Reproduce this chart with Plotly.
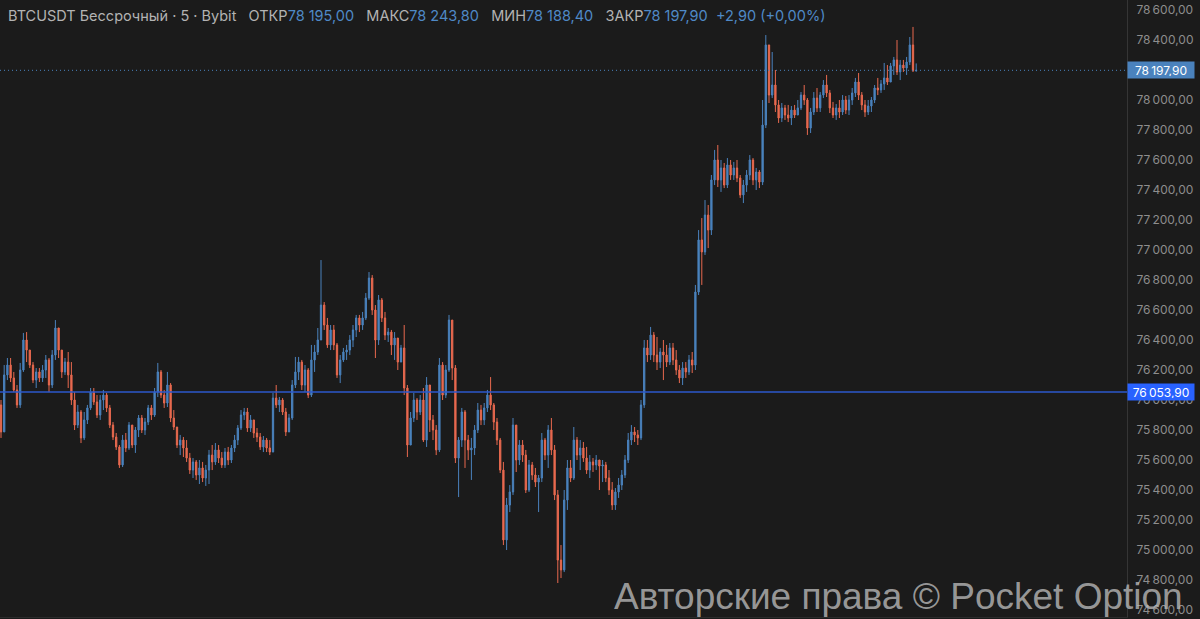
import plotly.graph_objects as go

# ---------------- data ----------------
first_open = 75967

closes = [
    75787, 76167, 76233, 76147, 76067, 75967, 76200, 76400, 76333, 76233,
    76133, 76187, 76147, 76200, 76267, 76100, 76300, 76480, 76333, 76187,
    76253, 76167, 76000, 75833, 75920, 75747, 75867, 75947, 76053, 75987,
    75900, 76000, 76033, 75947, 75833, 75753, 75687, 75567, 75733, 75680,
    75833, 75700, 75800, 75880, 75800, 75853, 75947, 75900, 76053, 76187,
    76033, 75980, 76100, 75880, 75820, 75700, 75733, 75680, 75613, 75533,
    75587, 75500, 75547, 75480, 75533, 75633, 75587, 75667, 75613, 75567,
    75653, 75600, 75680, 75733, 75813, 75900, 75920, 75813, 75867, 75780,
    75753, 75687, 75733, 75680, 75653, 76013, 75967, 76000, 75920, 75787,
    75880, 76100, 76187, 76253, 76100, 76200, 76033, 76267, 76320, 76400,
    76633, 76500, 76367, 76467, 76367, 76167, 76267, 76320, 76333, 76400,
    76467, 76547, 76500, 76547, 76680, 76813, 76600, 76400, 76667, 76547,
    76433, 76453, 76367, 76413, 76253, 76347, 76080, 75700, 75880, 76000,
    75920, 76000, 75733, 76100, 75867, 75800, 75667, 76233, 76033, 76200,
    76533, 76213, 75613, 75733, 75920, 75733, 75667, 75680, 75800, 75933,
    75867, 75947, 76033, 75967, 75853, 75733, 75533, 75067, 75300, 75387,
    75833, 75600, 75700, 75633, 75400, 75567, 75500, 75453, 75480, 75733,
    75633, 75800, 75667, 75367, 74933, 74867, 75333, 75547, 75480, 75733,
    75633, 75680, 75613, 75533, 75587, 75567, 75600, 75560, 75567, 75480,
    75400, 75300, 75387, 75433, 75500, 75600, 75733, 75787, 75767, 75747,
    75967, 76347, 76300, 76433, 76300, 76253, 76320, 76300, 76253, 76347,
    76267, 76200, 76147, 76213, 76187, 76267, 76233, 76720, 77067, 76987,
    77233, 77133, 77467, 77600, 77467, 77547, 77433, 77567, 77500, 77547,
    77480, 77367, 77433, 77500, 77600, 77467, 77520, 77453, 77833, 78367,
    78033, 78100, 77967, 77880, 77947, 77900, 77880, 77933, 77900, 77947,
    78033, 78000, 77813, 77920, 78013, 77947, 78033, 78100, 78047, 77947,
    77900, 77947, 77920, 78000, 77933, 78000, 78047, 78120, 78033, 77967,
    77920, 77960, 78000, 78080, 78067, 78107, 78147, 78120, 78227, 78267,
    78187, 78233, 78213, 78253, 78367, 78195, 78197.9,
]

highs = [
    76000, 76233, 76280, 76280, 76187, 76100, 76247, 76447, 76453, 76333,
    76253, 76213, 76213, 76233, 76300, 76280, 76333, 76533, 76453, 76333,
    76280, 76320, 76253, 76053, 75967, 75933, 75920, 75967, 76080, 76080,
    76033, 76033, 76067, 76047, 75967, 75853, 75780, 75700, 75767, 75780,
    75853, 75833, 75820, 75900, 75900, 75880, 75967, 75967, 76080, 76247,
    76200, 76067, 76187, 76113, 75933, 75813, 75767, 75753, 75733, 75647,
    75613, 75600, 75600, 75587, 75567, 75667, 75700, 75713, 75700, 75653,
    75680, 75687, 75700, 75767, 75833, 75933, 75947, 75947, 75900, 75867,
    75813, 75780, 75760, 75747, 75733, 76047, 76100, 76020, 76013, 75947,
    75907, 76133, 76287, 76287, 76267, 76233, 76213, 76367, 76367, 76480,
    76933, 76653, 76547, 76500, 76500, 76380, 76300, 76347, 76367, 76433,
    76500, 76567, 76567, 76587, 76713, 76853, 76833, 76633, 76700, 76680,
    76587, 76480, 76467, 76453, 76413, 76367, 76500, 76100, 75920, 76047,
    76013, 76033, 76080, 76153, 76100, 75900, 75833, 76280, 76253, 76233,
    76567, 76533, 76233, 75753, 75947, 75933, 75767, 75747, 75833, 75980,
    75967, 75980, 76067, 76153, 75980, 75880, 75747, 75587, 75347, 75433,
    75880, 75833, 75733, 75733, 75667, 75600, 75587, 75547, 75500, 75780,
    75747, 75833, 75880, 75700, 75400, 75033, 75400, 75600, 75600, 75820,
    75753, 75733, 75720, 75687, 75633, 75613, 75633, 75587, 75600, 75587,
    75533, 75453, 75413, 75480, 75533, 75633, 75780, 75833, 75820, 75800,
    76000, 76400, 76400, 76487, 76453, 76420, 76347, 76400, 76367, 76380,
    76380, 76333, 76233, 76253, 76253, 76300, 76320, 76767, 77133, 77213,
    77333, 77300, 77500, 77667, 77700, 77600, 77580, 77613, 77600, 77587,
    77600, 77500, 77467, 77533, 77633, 77613, 77547, 77533, 78000, 78433,
    78300, 78320, 78200, 78000, 77980, 77967, 77967, 77960, 77967, 78000,
    78053, 78100, 78013, 77947, 78053, 78080, 78053, 78133, 78167, 78067,
    77987, 77973, 78000, 78033, 78027, 78033, 78080, 78147, 78180, 78053,
    78000, 78000, 78020, 78100, 78147, 78133, 78247, 78233, 78247, 78287,
    78400, 78267, 78267, 78287, 78420, 78487, 78243.8,
]

lows = [
    75747, 75787, 76133, 76120, 76053, 75947, 75947, 76187, 76253, 76213,
    76113, 76080, 76120, 76120, 76147, 76053, 76080, 76267, 76280, 76147,
    76167, 76080, 75967, 75800, 75813, 75713, 75733, 75840, 75933, 75967,
    75880, 75867, 75933, 75920, 75813, 75733, 75667, 75547, 75553, 75653,
    75667, 75680, 75647, 75753, 75780, 75767, 75833, 75867, 75887, 76020,
    76013, 75947, 75953, 75853, 75800, 75680, 75633, 75620, 75587, 75507,
    75480, 75467, 75440, 75453, 75427, 75440, 75533, 75567, 75580, 75547,
    75547, 75567, 75580, 75653, 75700, 75800, 75867, 75787, 75787, 75747,
    75720, 75667, 75653, 75653, 75633, 75653, 75947, 75920, 75900, 75760,
    75787, 75867, 76080, 76133, 76067, 76053, 76013, 76020, 76187, 76300,
    76400, 76467, 76347, 76333, 76333, 76147, 76113, 76253, 76267, 76300,
    76353, 76420, 76453, 76467, 76533, 76667, 76567, 76280, 76367, 76520,
    76400, 76387, 76300, 76267, 76200, 76253, 76033, 75620, 75700, 75853,
    75867, 75900, 75720, 75687, 75787, 75733, 75633, 75653, 76000, 76013,
    76187, 76133, 75580, 75353, 75687, 75547, 75600, 75467, 75633, 75780,
    75833, 75833, 75920, 75933, 75800, 75700, 75513, 75033, 75000, 75253,
    75367, 75520, 75567, 75587, 75380, 75387, 75467, 75420, 75253, 75453,
    75600, 75547, 75633, 75333, 74780, 74813, 74853, 75267, 75453, 75467,
    75600, 75533, 75587, 75507, 75480, 75520, 75533, 75400, 75453, 75453,
    75367, 75267, 75267, 75347, 75400, 75480, 75580, 75700, 75720, 75700,
    75733, 75947, 76253, 76267, 76253, 76200, 76213, 76133, 76220, 76233,
    76233, 76167, 76113, 76100, 76147, 76167, 76180, 76200, 76700, 76767,
    76967, 77013, 77100, 77433, 77420, 77387, 77413, 77413, 77467, 77467,
    77453, 77347, 77313, 77387, 77467, 77433, 77400, 77413, 77433, 77813,
    77980, 78013, 77920, 77847, 77853, 77867, 77853, 77833, 77880, 77900,
    77933, 77967, 77767, 77780, 77900, 77920, 77920, 78013, 78020, 77913,
    77880, 77867, 77880, 77900, 77907, 77900, 77967, 78020, 78000, 77933,
    77887, 77900, 77920, 77980, 78033, 78047, 78067, 78100, 78133, 78167,
    78167, 78133, 78187, 78167, 78233, 78187, 78188.4,
]

level_price = 76053.90
tick_values = [74600 + 200 * k for k in range(21)]

header_parts = [
    ("BTCUSDT Бессрочный · 5 · Bybit", "label"),
    ("ОТКР", "label"), ("78 195,00", "value"),
    ("МАКС", "label"), ("78 243,80", "value"),
    ("МИН", "label"), ("78 188,40", "value"),
    ("ЗАКР", "label"), ("78 197,90", "value"),
    ("+2,90 (+0,00%)", "value"),
]
watermark = "Авторские права © Pocket Option"

# ---------------- styling ----------------
BG = "#1b1b1b"
UP = "#4a82bd"
DOWN = "#e8694f"
LABEL_GREY = "#b3b3b3"
VALUE_BLUE = "#4f89c6"
TICK_GREY = "#8d8d8d"
LEVEL_BLUE = "#2c58cc"
FONT = "Inter, 'Noto Sans', sans-serif"


def fmt_price(v):
    s = f"{v:,.2f}"
    whole, frac = s.split(".")
    return whole.replace(",", "\u2009") + "," + frac


n = len(closes)
opens = [first_open] + closes[:-1]
hi = [max(h, o, c) for h, o, c in zip(highs, opens, closes)]
lo = [min(l, o, c) for l, o, c in zip(lows, opens, closes)]
x = list(range(n))

fig = go.Figure(
    go.Candlestick(
        x=x, open=opens, high=hi, low=lo, close=closes,
        increasing=dict(line=dict(color=UP, width=1), fillcolor=UP),
        decreasing=dict(line=dict(color=DOWN, width=1), fillcolor=DOWN),
        whiskerwidth=0,
        hoverinfo="skip",
    )
)

W, H = 1200, 619
plot_w, plot_h = 1127, 617
px_per_candle = 3.2
x_first_px = 1.0
x_range = [-x_first_px / px_per_candle, (plot_w - x_first_px) / px_per_candle]
px_per_unit = 0.15
y_top = 78600 + 10 / px_per_unit
y_bottom = y_top - plot_h / px_per_unit

fig.update_layout(
    width=W, height=H,
    margin=dict(l=0, r=W - plot_w, t=0, b=H - plot_h, pad=0),
    paper_bgcolor=BG, plot_bgcolor=BG,
    showlegend=False,
    boxgap=0.42,
    font=dict(family=FONT, color=TICK_GREY),
    xaxis=dict(
        range=x_range, showticklabels=False, showgrid=False, zeroline=False,
        showline=True, linecolor="#2c2c2c", linewidth=1, ticks="",
        rangeslider=dict(visible=False), fixedrange=True,
    ),
    yaxis=dict(
        range=[y_bottom, y_top], side="right", showgrid=False, zeroline=False,
        showline=True, linecolor="#353535", linewidth=1,
        tickvals=tick_values, ticktext=[fmt_price(v) for v in tick_values],
        tickfont=dict(family=FONT, size=12, color=TICK_GREY),
        ticks="", ticklabelstandoff=6, fixedrange=True,
    ),
)

last_close = closes[-1]

fig.add_shape(type="line", xref="paper", x0=0, x1=1, yref="y",
              y0=level_price, y1=level_price,
              line=dict(color=LEVEL_BLUE, width=1.5), layer="above")
fig.add_shape(type="line", xref="paper", x0=0, x1=1, yref="y",
              y0=last_close, y1=last_close,
              line=dict(color=UP, width=1, dash="1px,3px"), layer="above")

for val, col in [(last_close, "#4a82bd"), (level_price, "#2962ff")]:
    fig.add_annotation(
        x=1, xref="paper", xanchor="left", xshift=0,
        y=val, yref="y", yanchor="middle",
        text=fmt_price(val), showarrow=False,
        font=dict(family=FONT, size=12, color="#ffffff"),
        bgcolor=col, borderpad=2, width=62, height=12, align="center",
    )

pieces = []
for i, (txt, kind) in enumerate(header_parts):
    color = LABEL_GREY if kind == "label" else VALUE_BLUE
    if i > 0 and kind == "label":
        pieces.append("\u00a0\u00a0\u00a0")
    if kind == "value" and header_parts[i - 1][1] == "value":
        pieces.append("\u00a0\u00a0")
    pieces.append(f"<span style='color:{color}'>{txt}</span>")
fig.add_annotation(
    x=0, xref="paper", xanchor="left", xshift=6,
    y=1, yref="paper", yanchor="top", yshift=-5,
    text="".join(pieces), showarrow=False,
    font=dict(family=FONT, size=14.5, color=LABEL_GREY),
)

fig.add_annotation(
    x=612 / plot_w, xref="paper", xanchor="left",
    y=0, yref="paper", yanchor="bottom", yshift=-2,
    text=watermark, showarrow=False,
    font=dict(family="Liberation Sans, Arial, sans-serif", size=37,
              color="rgba(185,185,185,0.8)"),
)

fig.write_html(
    "out.html",
    config=dict(displayModeBar=False, staticPlot=True),
    post_script="document.body.style.margin='0';document.body.style.background='%s';" % BG,
)
